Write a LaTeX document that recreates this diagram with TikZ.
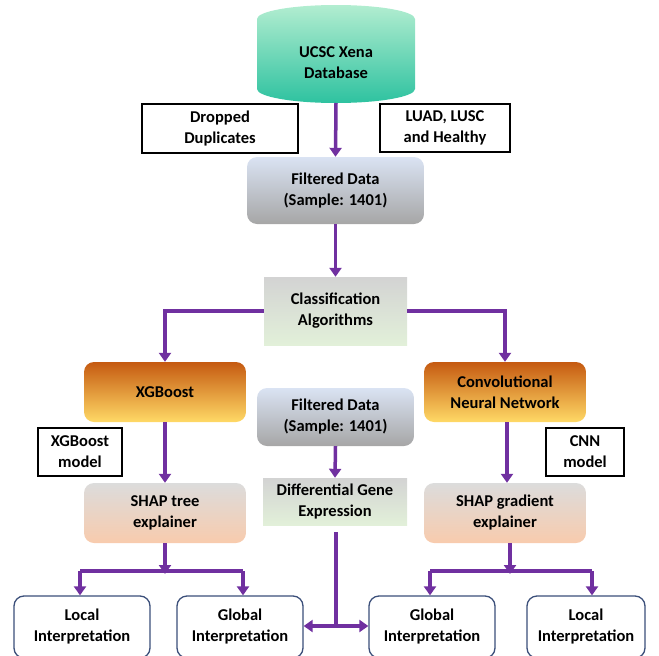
\documentclass[tikz,border=0pt]{standalone}
\usepackage{fontspec}
\setmainfont{Carlito}
\usetikzlibrary{arrows.meta}
\definecolor{flowpurple}{HTML}{7030A0}
\definecolor{boxnavy}{HTML}{3B4F7A}
\definecolor{minttop}{HTML}{B2EDD0}
\definecolor{mintbottom}{HTML}{2EC2A0}
\definecolor{bluetop}{HTML}{DAE3F3}
\definecolor{greybottom}{HTML}{A6A6A6}
\definecolor{greytop}{HTML}{D3D3D3}
\definecolor{greenbottom}{HTML}{E2F0D9}
\definecolor{rusttop}{HTML}{C55A11}
\definecolor{yellowbottom}{HTML}{FFD966}
\definecolor{peachbottom}{HTML}{F8CBAD}
\tikzset{
  box/.style={align=center,inner sep=0pt,font=\fontsize{16.5}{21}\selectfont\bfseries},
  note/.style={box,draw=black,line width=1.2pt,fill=white},
  grey blue/.style={box,rounded corners=10pt,top color=bluetop,bottom color=greybottom},
  grey green/.style={box,top color=greytop,bottom color=greenbottom},
  orange/.style={box,rounded corners=10pt,top color=rusttop,bottom color=yellowbottom},
  peach/.style={box,rounded corners=10pt,top color=greytop!80!white,bottom color=peachbottom},
  interp/.style={box,draw=boxnavy,line width=1.3pt,rounded corners=10pt,fill=white,minimum height=62pt},
  flow/.style={draw=flowpurple,line width=3.5pt},
  arr/.style={flow,-{Triangle[length=9pt,width=12pt]}}
}
\begin{document}
\begin{tikzpicture}[x=1pt,y=-1pt]
  \useasboundingbox (0,0) rectangle (659,656);
  \clip (0,0) rectangle (659,656);
  % source database drum
  \shade[top color=minttop,bottom color=mintbottom]
    (257,19) -- (257,89) arc[start angle=180,end angle=0,x radius=79,y radius=14]
    -- (415,19) arc[start angle=0,end angle=-180,x radius=79,y radius=14] -- cycle;
  \node[box] (xena) at (336,63) {UCSC Xena\\Database};
  \coordinate (xenabase) at (336,103);
  \node[note,minimum width=156pt,minimum height=49pt] (drop) at (220,128.5) {Dropped\\Duplicates};
  \node[note,minimum width=130pt,minimum height=48pt] (luad) at (445,128) {LUAD, LUSC\\and Healthy};
  \node[grey blue,minimum width=177pt,minimum height=67pt] (fd1) at (335.5,190.5) {Filtered Data\\(Sample: 1401)};
  \node[grey green,minimum width=143pt,minimum height=68pt] (cls) at (335.5,311) {Classification\\Algorithms};
  % models
  \node[orange,minimum width=162pt,minimum height=60pt] (xgb) at (165,392) {XGBoost};
  \node[orange,minimum width=162pt,minimum height=60pt] (cnn) at (505,392) {Convolutional\\Neural Network};
  \node[grey blue,minimum width=157pt,minimum height=58pt] (fd2) at (335.5,417) {Filtered Data\\(Sample: 1401)};
  \node[note,minimum width=84pt,minimum height=48pt] (xgbm) at (80,452) {XGBoost\\model};
  \node[note,minimum width=78pt,minimum height=48pt] (cnnm) at (585,452) {CNN\\model};
  % explainers
  \node[peach,minimum width=162pt,minimum height=60pt] (tree) at (165,513) {SHAP tree\\explainer};
  \node[grey green,minimum width=144pt,minimum height=47pt] (dge) at (335,501.5) {Differential Gene\\Expression};
  \node[peach,minimum width=162pt,minimum height=60pt] (grad) at (505,513) {SHAP gradient\\explainer};
  % interpretations
  \node[interp,minimum width=136pt] (loc1) at (82,627) {Local\\Interpretation};
  \node[interp,minimum width=126pt] (glob1) at (240,627) {Global\\Interpretation};
  \node[interp,minimum width=126pt] (glob2) at (432,627) {Global\\Interpretation};
  \node[interp,minimum width=118pt] (loc2) at (586,627) {Local\\Interpretation};
  \coordinate (lsplit) at (165,571);
  \coordinate (rsplit) at (510,571);
  \coordinate (dgejoin) at (336,626);
  % connectors
  \draw[arr] (xenabase) -- (fd1.north);
  \draw[arr] (fd1.south) -- (cls.north);
  \draw[arr] (cls.west) -| (xgb.north);
  \draw[arr] (cls.east) -| (cnn.north);
  \draw[arr] (xgb.south) -- (tree.north);
  \draw[arr] ([xshift=2pt]cnn.south) -- ([xshift=2pt]grad.north);
  \draw[arr] (fd2.south) -- (dge.north);
  \draw[arr] (tree.south) -- ([yshift=-3pt]lsplit);
  \draw[arr] (grad.south -| rsplit) -- ([yshift=-3pt]rsplit);
  \draw[flow] (lsplit -| 80,0) -- (lsplit -| 243,0);
  \draw[arr] (lsplit -| 80,0) -- (loc1.north -| 80,0);
  \draw[arr] (lsplit -| 243,0) -- (glob1.north -| 243,0);
  \draw[flow] (rsplit -| 430,0) -- (rsplit -| 592,0);
  \draw[arr] (rsplit -| 430,0) -- (glob2.north -| 430,0);
  \draw[arr] (rsplit -| 592,0) -- (loc2.north -| 592,0);
  \draw[flow,shorten <=7pt] (dge.south -| dgejoin) -- (dgejoin);
  \draw[arr] (dgejoin) -- (glob1.east |- dgejoin);
  \draw[arr] (dgejoin) -- (glob2.west |- dgejoin);
\end{tikzpicture}
\end{document}
